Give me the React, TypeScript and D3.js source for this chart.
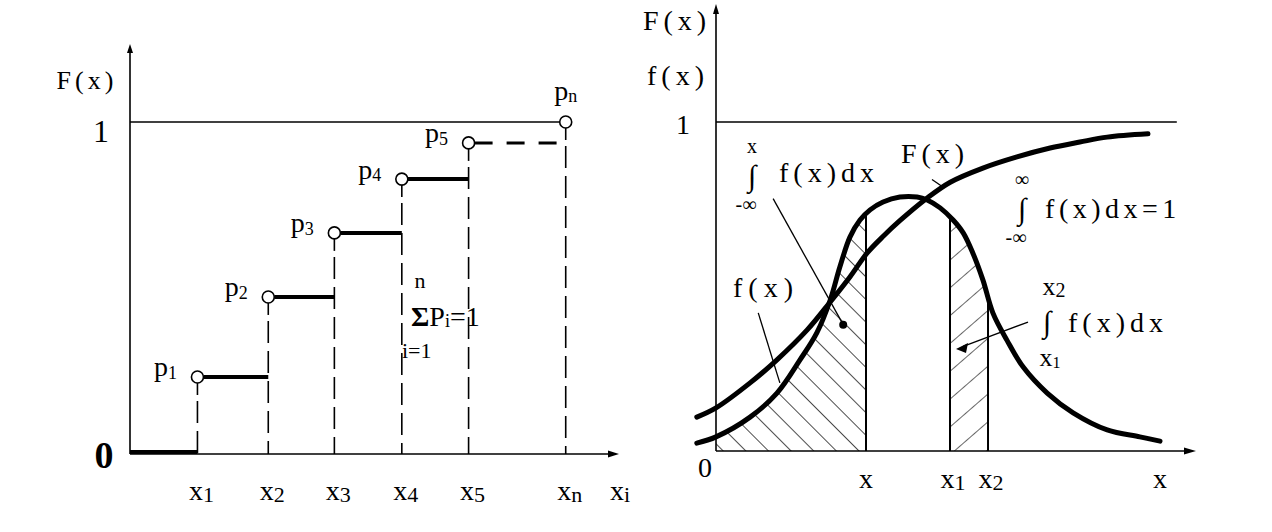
import React from 'react';
import * as d3 from 'd3';

const W = 1272;
const H = 532;
const FONT = "'Liberation Serif', 'DejaVu Serif', serif";

// left panel: discrete distribution function (step values)
const stepNames = ['1', '2', '3', '4', '5', 'n'];
const stepX = [1, 2.05, 3.03, 4.03, 5.02, 6.46];
const stepF = [0.232, 0.473, 0.666, 0.828, 0.937, 1.0];

// right panel: density f(x) and distribution F(x), sampled from the curves
const densityU = [-0.4, 0, 0.71, 1.27, 1.75, 2.1, 2.38, 2.58, 2.79, 3.0, 3.21, 3.48, 3.83, 4.19, 4.4, 4.67, 4.94, 5.15, 5.35, 5.56, 5.77, 6.06, 6.4, 6.9, 7.44, 8.15, 8.83, 9.25];
const densityV = [0.024, 0.043, 0.103, 0.176, 0.277, 0.359, 0.459, 0.559, 0.65, 0.702, 0.733, 0.757, 0.772, 0.772, 0.763, 0.739, 0.702, 0.663, 0.602, 0.52, 0.419, 0.337, 0.255, 0.176, 0.116, 0.064, 0.043, 0.03];
const cdfU = [-0.4, 0, 0.71, 1.27, 1.9, 2.38, 2.79, 3.15, 3.5, 3.83, 4.4, 4.88, 5.56, 6.27, 6.96, 7.58, 8.15, 9.0];
const cdfV = [0.103, 0.131, 0.207, 0.277, 0.368, 0.453, 0.529, 0.602, 0.655, 0.7, 0.769, 0.817, 0.86, 0.894, 0.921, 0.939, 0.954, 0.964];
const markU = [3.125, 4.875, 5.667];
const markSub = ['', '1', '2'];

const xL = d3.scaleLinear().domain([0, 7.25]).range([130, 619]);
const yL = d3.scaleLinear().domain([0, 1]).range([454, 122]);
const xR = d3.scaleLinear().domain([0, 10]).range([716, 1196]);
const yR = d3.scaleLinear().domain([0, 1]).range([451, 122]);

const density = densityU.map((u, i) => [u, densityV[i]] as [number, number]);
const cdf = cdfU.map((u, i) => [u, cdfV[i]] as [number, number]);

const curve = d3.curveCatmullRom.alpha(0.5);
const lineR = d3.line<[number, number]>().x(d => xR(d[0])).y(d => yR(d[1])).curve(curve);
const areaR = d3.area<[number, number]>().x(d => xR(d[0])).y0(yR(0)).y1(d => yR(d[1])).curve(curve);

const R = 6;

function Sub({ base, sub, size = 28, subSize = 18, x, y, anchor = 'middle', dy = 6 }: any) {
  return (
    <text x={x} y={y} fontSize={size} textAnchor={anchor} dominantBaseline="central">
      {base}
      {sub ? <tspan fontSize={subSize} dy={dy}>{sub}</tspan> : null}
    </text>
  );
}

// integral sign with limits stacked above and below
function Integral({ x, y, top, bottom }: any) {
  return (
    <g textAnchor="middle" dominantBaseline="central">
      <text x={x} y={y - 29} fontSize={20}>{top}</text>
      <text x={x} y={y} fontSize={30}>∫</text>
      <text x={x - 6} y={y + 29} fontSize={20}>{bottom}</text>
    </g>
  );
}

export default function App() {
  const n = stepX.length;
  return (
    <svg width={W} height={H} style={{ position: 'absolute', left: 0, top: 0, background: '#fff' }} fontFamily={FONT}>
      <defs>
        <pattern id="hatchA" patternUnits="userSpaceOnUse" width={16} height={16} patternTransform="rotate(-45)">
          <line x1={0} y1={0} x2={0} y2={16} stroke="#000" strokeWidth={1.4} />
        </pattern>
        <pattern id="hatchB" patternUnits="userSpaceOnUse" width={21} height={21} patternTransform="rotate(49)">
          <line x1={0} y1={0} x2={0} y2={21} stroke="#000" strokeWidth={1.2} />
        </pattern>
        <clipPath id="underF">
          <path d={areaR(density) || ''} />
        </clipPath>
      </defs>

      {/* ---------- left panel ---------- */}
      <g stroke="#000" fill="none">
        <line x1={xL(0)} y1={yL(0)} x2={xL(0)} y2={50} strokeWidth={1.6} />
        <line x1={xL(0)} y1={yL(0)} x2={xL(7.2)} y2={yL(0)} strokeWidth={1.6} />
        <line x1={xL(0)} y1={yL(1)} x2={xL(stepX[n - 1]) - R} y2={yL(1)} strokeWidth={1.6} />
        <line x1={xL(0)} y1={yL(0) - 2} x2={xL(stepX[0])} y2={yL(0) - 2} strokeWidth={4} />
      </g>
      <path d={`M${xL(0)},44 l-3,9 l6,0 z`} fill="#000" />
      <path d={`M${xL(7.25)},${yL(0)} l-11,-3.5 l0,7 z`} fill="#000" />

      {stepX.map((sx, i) => {
        const cx = xL(sx);
        const cy = yL(stepF[i]);
        const next = i < n - 1 ? xL(stepX[i + 1]) : null;
        return (
          <g key={i}>
            <line x1={cx} y1={cy + R} x2={cx} y2={cy + 18} stroke="#000" strokeWidth={1.6} />
            <line x1={cx} y1={cy + 24} x2={cx} y2={yL(0)} stroke="#000" strokeWidth={1.6} strokeDasharray="22,8" />
            {next !== null && (
              <line
                x1={cx + R}
                y1={cy}
                x2={next}
                y2={cy}
                stroke="#000"
                strokeWidth={i === n - 2 ? 3 : 4}
                strokeDasharray={i === n - 2 ? '18,14' : undefined}
              />
            )}
            <circle cx={cx} cy={cy} r={R} fill="#fff" stroke="#000" strokeWidth={1.6} />
            {i < n - 1 ? (
              <Sub base="p" sub={stepNames[i]} x={cx - 32} y={cy - 10} subSize={18} />
            ) : (
              <Sub base="p" sub={stepNames[i]} x={cx} y={cy - 32} subSize={18} />
            )}
            <Sub base="x" sub={stepNames[i]} x={cx + 4} y={490} subSize={22} dy={4} />
          </g>
        );
      })}

      <text x={87} y={80} fontSize={26} letterSpacing={4} textAnchor="middle" dominantBaseline="central">F(x)</text>
      <text x={101} y={131} fontSize={32} textAnchor="middle" dominantBaseline="central">1</text>
      <text x={104} y={455} fontSize={38} fontWeight="bold" textAnchor="middle" dominantBaseline="central">0</text>
      <Sub base="x" sub="i" x={620} y={490} subSize={22} dy={4} />

      <text x={420} y={280} fontSize={22} textAnchor="middle" dominantBaseline="central">n</text>
      <text x={411} y={316} fontSize={28} dominantBaseline="central">
        <tspan fontWeight="bold">Σ</tspan>P<tspan fontSize={18} dy={5}>i</tspan>
        <tspan dy={-5}>=1</tspan>
      </text>
      <text x={402} y={350} fontSize={22} dominantBaseline="central">i=1</text>

      {/* ---------- right panel ---------- */}
      <rect x={xR(0)} y={100} width={xR(markU[0]) - xR(0)} height={yR(0) - 100} fill="url(#hatchA)" clipPath="url(#underF)" />
      <rect x={xR(markU[1])} y={100} width={xR(markU[2]) - xR(markU[1])} height={yR(0) - 100} fill="url(#hatchB)" clipPath="url(#underF)" />
      <g clipPath="url(#underF)" stroke="#000" strokeWidth={2}>
        {markU.map((u, i) => (
          <line key={i} x1={xR(u)} y1={yR(0)} x2={xR(u)} y2={yR(1)} />
        ))}
      </g>

      <g stroke="#000" fill="none">
        <line x1={xR(0)} y1={yR(0)} x2={xR(0)} y2={10} strokeWidth={1.6} />
        <line x1={xR(0)} y1={yR(0)} x2={xR(9.9)} y2={yR(0)} strokeWidth={1.6} />
        <line x1={xR(0)} y1={yR(1)} x2={xR(9.6)} y2={yR(1)} strokeWidth={1.6} />
        <path d={lineR(cdf) || ''} strokeWidth={5} strokeLinecap="round" />
        <path d={lineR(density) || ''} strokeWidth={5} strokeLinecap="round" />
      </g>
      <path d={`M${xR(0)},4 l-3,10 l6,0 z`} fill="#000" />
      <path d={`M${xR(10)},${yR(0)} l-12,-3.5 l0,7 z`} fill="#000" />

      <text x={677} y={20} fontSize={28} letterSpacing={5} textAnchor="middle" dominantBaseline="central">F(x)</text>
      <text x={678} y={75} fontSize={28} letterSpacing={5} textAnchor="middle" dominantBaseline="central">f(x)</text>
      <text x={683} y={124} fontSize={28} textAnchor="middle" dominantBaseline="central">1</text>
      <text x={705} y={467} fontSize={28} textAnchor="middle" dominantBaseline="central">0</text>
      {markU.map((u, i) => (
        <Sub key={i} base="x" sub={markSub[i]} x={xR(u) + (markSub[i] ? 3 : 0)} y={478} subSize={22} dy={4} />
      ))}
      <text x={1160} y={478} fontSize={28} textAnchor="middle" dominantBaseline="central">x</text>

      {/* integral from -inf to x */}
      <Integral x={752} y={175} top="x" bottom="-∞" />
      <text x={829} y={172} fontSize={28} letterSpacing={5} textAnchor="middle" dominantBaseline="central">f(x)dx</text>
      <line x1={xR(1.19)} y1={yR(0.767)} x2={xR(2.65)} y2={yR(0.384)} stroke="#000" strokeWidth={1.3} />
      <circle cx={xR(2.65)} cy={yR(0.384)} r={4} fill="#000" />

      <text x={935} y={153} fontSize={28} letterSpacing={5} textAnchor="middle" dominantBaseline="central">F(x)</text>
      <line x1={xR(4.5)} y1={yR(0.825)} x2={xR(4.75)} y2={yR(0.8)} stroke="#000" strokeWidth={1.3} />

      <text x={766} y={287} fontSize={28} letterSpacing={6} textAnchor="middle" dominantBaseline="central">f(x)</text>
      <line x1={xR(0.88)} y1={yR(0.42)} x2={xR(1.33)} y2={yR(0.207)} stroke="#000" strokeWidth={1.3} />

      {/* integral from -inf to inf */}
      <Integral x={1022} y={208} top="∞" bottom="-∞" />
      <text x={1113} y={208} fontSize={28} letterSpacing={4.5} textAnchor="middle" dominantBaseline="central">f(x)dx=1</text>

      {/* integral from x1 to x2 */}
      <Sub base="x" sub="2" x={1054} y={286} size={26} subSize={20} dy={4} />
      <text x={1047} y={321} fontSize={30} textAnchor="middle" dominantBaseline="central">∫</text>
      <Sub base="x" sub="1" x={1050} y={357} size={26} subSize={16} dy={5} />
      <text x={1118} y={322} fontSize={28} letterSpacing={5} textAnchor="middle" dominantBaseline="central">f(x)dx</text>
      <line x1={xR(6.5)} y1={yR(0.392)} x2={xR(5.15)} y2={yR(0.318)} stroke="#000" strokeWidth={1.3} />
      <path d={`M${xR(5.0)},${yR(0.31)} l12,-6 l-2,10 z`} fill="#000" />
    </svg>
  );
}
